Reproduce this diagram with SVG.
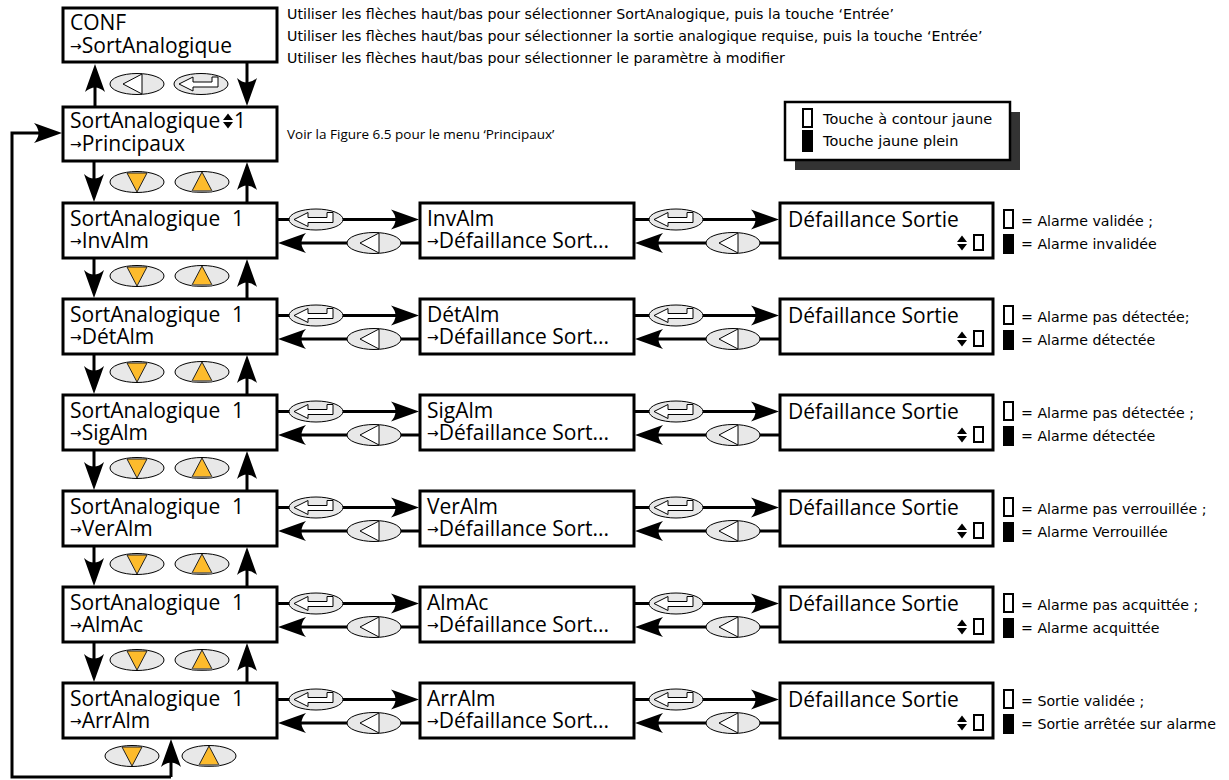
<svg xmlns="http://www.w3.org/2000/svg" xmlns:xlink="http://www.w3.org/1999/xlink" width="1229" height="780" viewBox="0 0 1229 780">
<style>
.box{fill:#fff;stroke:#000;stroke-width:3}
.t{font-family:"Open Sans","Noto Sans",sans-serif;font-size:21px;fill:#000}
.ar{font-family:"DejaVu Sans",sans-serif;font-size:14px;baseline-shift:2px}
.s{font-family:"DejaVu Sans",sans-serif;font-size:14.2px;fill:#000}
.v{font-family:"Open Sans","Noto Sans",sans-serif;font-size:13.5px;fill:#000}
.l{font-family:"DejaVu Sans",sans-serif;font-size:14.5px;fill:#000}
.r{font-family:"DejaVu Sans",sans-serif;font-size:14.2px;fill:#000}
.ln{fill:none;stroke:#000;stroke-width:3;marker-end:url(#ah)}
.key{fill:#e8e8e8;stroke:#000;stroke-width:1}
.sym{fill:#fff;stroke:#000;stroke-width:1}
.tri{fill:#fdbb2c;stroke:#222;stroke-width:1}
.hol{fill:#fff;stroke:#000;stroke-width:2}
.fil{fill:#000}
</style>
<defs>
<marker id="ah" markerUnits="userSpaceOnUse" markerWidth="30" markerHeight="22" viewBox="0 0 30 22" refX="16" refY="11" orient="auto">
<path d="M28,11 L0,1 Q9,11 0,21 Z" fill="#000"/>
</marker>
<g id="kEnter"><ellipse class="key" rx="27" ry="10.5"/><path class="sym" d="M-22,0 L-8,-7 L-8,-2 L11,-2 L11,-7 L17,-7 L17,3 L-8,3 L-8,7 Z"/></g>
<g id="kBack"><ellipse class="key" rx="27" ry="10.5"/><path class="sym" d="M-14,0 L5,-10 L5,10 Z"/></g>
<g id="kDown"><ellipse class="key" rx="27" ry="10.5"/><path class="tri" d="M-10,-9 L10,-9 L0,10 Z"/></g>
<g id="kUp"><ellipse class="key" rx="27" ry="10.5"/><path class="tri" d="M-10,9 L10,9 L0,-10 Z"/><path d="M-10,9.5 L10,9.5" stroke="#777" stroke-width="2"/></g>
<g id="ud"><path d="M-5,-1 L0,-7.5 L5,-1 Z M-5,1 L0,7.5 L5,1 Z" fill="#000"/></g>
</defs>

<g id="instructions">
<text class="s" x="287" y="19">Utiliser les flèches haut/bas pour sélectionner SortAnalogique, puis la touche ‘Entrée’</text>
<text class="s" x="287" y="41">Utiliser les flèches haut/bas pour sélectionner la sortie analogique requise, puis la touche ‘Entrée’</text>
<text class="s" x="287" y="63">Utiliser les flèches haut/bas pour sélectionner le paramètre à modifier</text>
<text class="v" x="287" y="139">Voir la Figure 6.5 pour le menu ‘Principaux’</text>
</g>

<g id="legend">
<rect x="795" y="112" width="225" height="58" fill="#333"/>
<rect x="785" y="102" width="225" height="58" fill="#fff" stroke="#000" stroke-width="2.5"/>
<rect class="hol" x="803" y="109" width="9" height="18"/>
<rect class="fil" x="802" y="130" width="11" height="22"/>
<text class="l"><tspan x="823" y="124">Touche à contour jaune</tspan><tspan x="823" y="146">Touche jaune plein</tspan></text>
</g>

<g id="connectors">
<path class="ln" d="M95,107 L95,76"/>
<path class="ln" d="M247,62 L247,94"/>
<path class="ln" d="M94,161 L94,190"/>
<path class="ln" d="M247,203 L247,174"/>
<path class="ln" d="M94,258 L94,286"/><path class="ln" d="M247,299 L247,271"/>
<path class="ln" d="M94,354 L94,382"/><path class="ln" d="M247,395 L247,367"/>
<path class="ln" d="M94,450 L94,478"/><path class="ln" d="M247,491 L247,463"/>
<path class="ln" d="M94,546 L94,574"/><path class="ln" d="M247,587 L247,559"/>
<path class="ln" d="M94,642 L94,670"/><path class="ln" d="M247,683 L247,655"/>
<path class="ln" d="M171,777 L171,751"/>
<path class="ln" d="M171,777 L12,777 L12,133 L50,133"/>
<path class="ln" d="M277,219.5 L407,219.5"/><path class="ln" d="M420,243 L290,243"/>
<path class="ln" d="M634,219.5 L767,219.5"/><path class="ln" d="M780,243 L647,243"/>
<path class="ln" d="M277,315.5 L407,315.5"/><path class="ln" d="M420,339 L290,339"/>
<path class="ln" d="M634,315.5 L767,315.5"/><path class="ln" d="M780,339 L647,339"/>
<path class="ln" d="M277,411.5 L407,411.5"/><path class="ln" d="M420,435 L290,435"/>
<path class="ln" d="M634,411.5 L767,411.5"/><path class="ln" d="M780,435 L647,435"/>
<path class="ln" d="M277,507.5 L407,507.5"/><path class="ln" d="M420,531 L290,531"/>
<path class="ln" d="M634,507.5 L767,507.5"/><path class="ln" d="M780,531 L647,531"/>
<path class="ln" d="M277,603.5 L407,603.5"/><path class="ln" d="M420,627 L290,627"/>
<path class="ln" d="M634,603.5 L767,603.5"/><path class="ln" d="M780,627 L647,627"/>
<path class="ln" d="M277,699.5 L407,699.5"/><path class="ln" d="M420,723 L290,723"/>
<path class="ln" d="M634,699.5 L767,699.5"/><path class="ln" d="M780,723 L647,723"/>
</g>

<g id="keys">
<use xlink:href="#kBack" x="137" y="84"/><use xlink:href="#kEnter" x="201" y="84"/>
<use xlink:href="#kDown" x="137" y="182"/><use xlink:href="#kUp" x="202" y="182"/>
<use xlink:href="#kDown" x="137" y="276"/><use xlink:href="#kUp" x="202" y="276"/>
<use xlink:href="#kDown" x="137" y="372"/><use xlink:href="#kUp" x="202" y="372"/>
<use xlink:href="#kDown" x="137" y="468"/><use xlink:href="#kUp" x="202" y="468"/>
<use xlink:href="#kDown" x="137" y="564"/><use xlink:href="#kUp" x="202" y="564"/>
<use xlink:href="#kDown" x="137" y="660"/><use xlink:href="#kUp" x="202" y="660"/>
<use xlink:href="#kDown" x="132" y="756"/><use xlink:href="#kUp" x="209" y="756"/>
<use xlink:href="#kEnter" x="316" y="219.5"/><use xlink:href="#kBack" x="374" y="243"/><use xlink:href="#kEnter" x="676" y="219.5"/><use xlink:href="#kBack" x="733" y="243"/>
<use xlink:href="#kEnter" x="316" y="315.5"/><use xlink:href="#kBack" x="374" y="339"/><use xlink:href="#kEnter" x="676" y="315.5"/><use xlink:href="#kBack" x="733" y="339"/>
<use xlink:href="#kEnter" x="316" y="411.5"/><use xlink:href="#kBack" x="374" y="435"/><use xlink:href="#kEnter" x="676" y="411.5"/><use xlink:href="#kBack" x="733" y="435"/>
<use xlink:href="#kEnter" x="316" y="507.5"/><use xlink:href="#kBack" x="374" y="531"/><use xlink:href="#kEnter" x="676" y="507.5"/><use xlink:href="#kBack" x="733" y="531"/>
<use xlink:href="#kEnter" x="316" y="603.5"/><use xlink:href="#kBack" x="374" y="627"/><use xlink:href="#kEnter" x="676" y="603.5"/><use xlink:href="#kBack" x="733" y="627"/>
<use xlink:href="#kEnter" x="316" y="699.5"/><use xlink:href="#kBack" x="374" y="723"/><use xlink:href="#kEnter" x="676" y="699.5"/><use xlink:href="#kBack" x="733" y="723"/>
</g>

<g id="node-conf">
<rect class="box" x="63" y="8" width="214" height="54"/>
<text class="t"><tspan x="70" y="30">CONF</tspan><tspan x="70" y="53"><tspan class="ar">→</tspan>SortAnalogique</tspan></text>
</g>
<g id="node-sortana">
<rect class="box" x="63" y="107" width="214" height="54"/>
<use xlink:href="#ud" x="228" y="121"/>
<text class="t"><tspan x="70" y="128">SortAnalogique</tspan><tspan x="234" y="128">1</tspan><tspan x="70" y="151"><tspan class="ar">→</tspan>Principaux</tspan></text>
</g>

<g id="row1-left"><rect class="box" x="63" y="203" width="214" height="55"/>
<text class="t"><tspan x="70" y="226">SortAnalogique</tspan><tspan x="232" y="226">1</tspan><tspan x="70" y="248"><tspan class="ar">→</tspan>InvAlm</tspan></text></g>
<g id="row1-mid"><rect class="box" x="420" y="203" width="214" height="55"/>
<text class="t"><tspan x="427" y="226">InvAlm</tspan><tspan x="427" y="248"><tspan class="ar">→</tspan>Défaillance Sort...</tspan></text></g>
<g id="row1-right"><rect class="box" x="780" y="203" width="213" height="55"/>
<text class="t" x="788" y="227">Défaillance Sortie</text>
<use xlink:href="#ud" x="962" y="243"/><rect x="974" y="235" width="9" height="15" fill="#fff" stroke="#000" stroke-width="2"/>
<rect class="hol" x="1004" y="210" width="9" height="18"/><rect class="fil" x="1003" y="234" width="11" height="20"/>
<text class="r"><tspan x="1021" y="226">= Alarme validée ;</tspan><tspan x="1021" y="249">= Alarme invalidée</tspan></text></g>

<g id="row2-left"><rect class="box" x="63" y="299" width="214" height="55"/>
<text class="t"><tspan x="70" y="322">SortAnalogique</tspan><tspan x="232" y="322">1</tspan><tspan x="70" y="344"><tspan class="ar">→</tspan>DétAlm</tspan></text></g>
<g id="row2-mid"><rect class="box" x="420" y="299" width="214" height="55"/>
<text class="t"><tspan x="427" y="322">DétAlm</tspan><tspan x="427" y="344"><tspan class="ar">→</tspan>Défaillance Sort...</tspan></text></g>
<g id="row2-right"><rect class="box" x="780" y="299" width="213" height="55"/>
<text class="t" x="788" y="323">Défaillance Sortie</text>
<use xlink:href="#ud" x="962" y="339"/><rect x="974" y="331" width="9" height="15" fill="#fff" stroke="#000" stroke-width="2"/>
<rect class="hol" x="1004" y="306" width="9" height="18"/><rect class="fil" x="1003" y="330" width="11" height="20"/>
<text class="r"><tspan x="1021" y="322">= Alarme pas détectée;</tspan><tspan x="1021" y="345">= Alarme détectée</tspan></text></g>

<g id="row3-left"><rect class="box" x="63" y="395" width="214" height="55"/>
<text class="t"><tspan x="70" y="418">SortAnalogique</tspan><tspan x="232" y="418">1</tspan><tspan x="70" y="440"><tspan class="ar">→</tspan>SigAlm</tspan></text></g>
<g id="row3-mid"><rect class="box" x="420" y="395" width="214" height="55"/>
<text class="t"><tspan x="427" y="418">SigAlm</tspan><tspan x="427" y="440"><tspan class="ar">→</tspan>Défaillance Sort...</tspan></text></g>
<g id="row3-right"><rect class="box" x="780" y="395" width="213" height="55"/>
<text class="t" x="788" y="419">Défaillance Sortie</text>
<use xlink:href="#ud" x="962" y="435"/><rect x="974" y="427" width="9" height="15" fill="#fff" stroke="#000" stroke-width="2"/>
<rect class="hol" x="1004" y="402" width="9" height="18"/><rect class="fil" x="1003" y="426" width="11" height="20"/>
<text class="r"><tspan x="1021" y="418">= Alarme pas détectée ;</tspan><tspan x="1021" y="441">= Alarme détectée</tspan></text></g>

<g id="row4-left"><rect class="box" x="63" y="491" width="214" height="55"/>
<text class="t"><tspan x="70" y="514">SortAnalogique</tspan><tspan x="232" y="514">1</tspan><tspan x="70" y="536"><tspan class="ar">→</tspan>VerAlm</tspan></text></g>
<g id="row4-mid"><rect class="box" x="420" y="491" width="214" height="55"/>
<text class="t"><tspan x="427" y="514">VerAlm</tspan><tspan x="427" y="536"><tspan class="ar">→</tspan>Défaillance Sort...</tspan></text></g>
<g id="row4-right"><rect class="box" x="780" y="491" width="213" height="55"/>
<text class="t" x="788" y="515">Défaillance Sortie</text>
<use xlink:href="#ud" x="962" y="531"/><rect x="974" y="523" width="9" height="15" fill="#fff" stroke="#000" stroke-width="2"/>
<rect class="hol" x="1004" y="498" width="9" height="18"/><rect class="fil" x="1003" y="522" width="11" height="20"/>
<text class="r"><tspan x="1021" y="514">= Alarme pas verrouillée ;</tspan><tspan x="1021" y="537">= Alarme Verrouillée</tspan></text></g>

<g id="row5-left"><rect class="box" x="63" y="587" width="214" height="55"/>
<text class="t"><tspan x="70" y="610">SortAnalogique</tspan><tspan x="232" y="610">1</tspan><tspan x="70" y="632"><tspan class="ar">→</tspan>AlmAc</tspan></text></g>
<g id="row5-mid"><rect class="box" x="420" y="587" width="214" height="55"/>
<text class="t"><tspan x="427" y="610">AlmAc</tspan><tspan x="427" y="632"><tspan class="ar">→</tspan>Défaillance Sort...</tspan></text></g>
<g id="row5-right"><rect class="box" x="780" y="587" width="213" height="55"/>
<text class="t" x="788" y="611">Défaillance Sortie</text>
<use xlink:href="#ud" x="962" y="627"/><rect x="974" y="619" width="9" height="15" fill="#fff" stroke="#000" stroke-width="2"/>
<rect class="hol" x="1004" y="594" width="9" height="18"/><rect class="fil" x="1003" y="618" width="11" height="20"/>
<text class="r"><tspan x="1021" y="610">= Alarme pas acquittée ;</tspan><tspan x="1021" y="633">= Alarme acquittée</tspan></text></g>

<g id="row6-left"><rect class="box" x="63" y="683" width="214" height="55"/>
<text class="t"><tspan x="70" y="706">SortAnalogique</tspan><tspan x="232" y="706">1</tspan><tspan x="70" y="728"><tspan class="ar">→</tspan>ArrAlm</tspan></text></g>
<g id="row6-mid"><rect class="box" x="420" y="683" width="214" height="55"/>
<text class="t"><tspan x="427" y="706">ArrAlm</tspan><tspan x="427" y="728"><tspan class="ar">→</tspan>Défaillance Sort...</tspan></text></g>
<g id="row6-right"><rect class="box" x="780" y="683" width="213" height="55"/>
<text class="t" x="788" y="707">Défaillance Sortie</text>
<use xlink:href="#ud" x="962" y="723"/><rect x="974" y="715" width="9" height="15" fill="#fff" stroke="#000" stroke-width="2"/>
<rect class="hol" x="1004" y="690" width="9" height="18"/><rect class="fil" x="1003" y="714" width="11" height="20"/>
<text class="r"><tspan x="1021" y="706">= Sortie validée ;</tspan><tspan x="1021" y="729">= Sortie arrêtée sur alarme</tspan></text></g>
</svg>
